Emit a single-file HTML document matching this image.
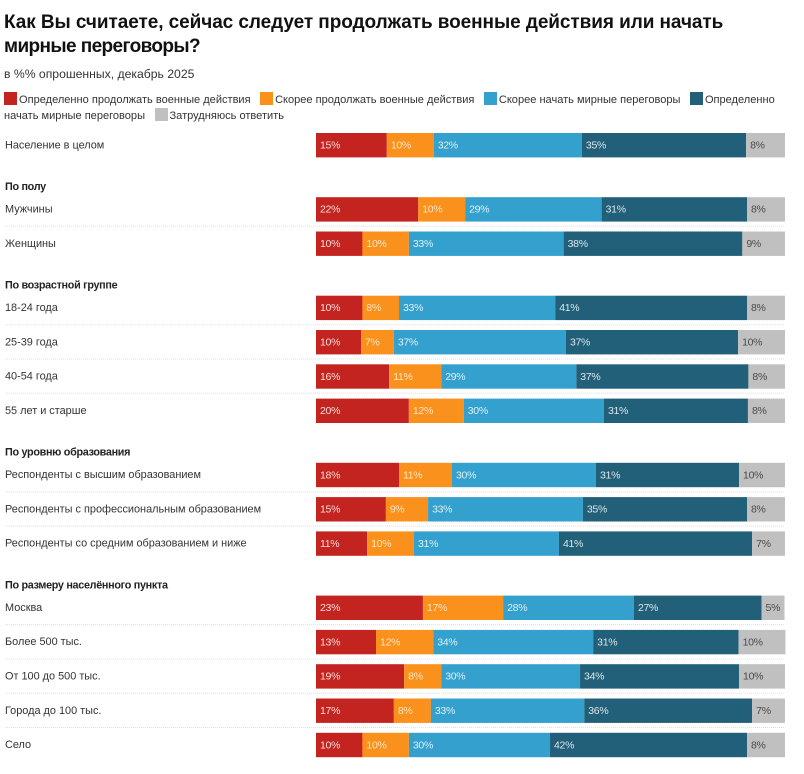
<!DOCTYPE html>
<html lang="ru">
<head>
<meta charset="utf-8">
<title>Военные действия или мирные переговоры</title>
<style>
html,body{margin:0;padding:0;background:#fff;width:804px;height:774px;overflow:hidden}
body{position:relative;font-family:"Liberation Sans",sans-serif;color:#222}
.t{position:absolute;white-space:nowrap}
#title{left:4px;top:10.5px;font-size:19px;line-height:24px;font-weight:700;color:#111;letter-spacing:-.07px}
#title span{letter-spacing:-.6px}
#subtitle{left:4px;top:66.5px;font-size:12.2px;line-height:15px;color:#333}
#legend{position:absolute;left:4px;top:92px;width:790px;font-size:11.06px;line-height:15.5px;color:#333}
.sw{display:inline-block;width:13px;height:13px;vertical-align:-2.5px;margin-right:2px}
.li{margin-right:6.4px}
svg{position:absolute;left:0;top:0}
</style>
</head>
<body>
<div class="t" id="title">Как Вы считаете, сейчас следует продолжать военные действия или начать<br><span>мирные переговоры?</span></div>
<div class="t" id="subtitle">в %% опрошенных, декабрь 2025</div>
<div id="legend">
<span class="li"><span class="sw" style="background:#c4241f"></span>Определенно продолжать военные действия</span>
<span class="li"><span class="sw" style="background:#f9911c"></span>Скорее продолжать военные действия</span>
<span class="li"><span class="sw" style="background:#33a0cd"></span>Скорее начать мирные переговоры</span>
<span class="li"><span class="sw" style="background:#225f78"></span>Определенно начать мирные переговоры</span>
<span class="li"><span class="sw" style="background:#c0c0c0"></span>Затрудняюсь ответить</span>
</div>
<svg id="chart" width="804" height="774" viewBox="0 0 804 774"></svg>
<script>
var categories = ["Население в целом","Мужчины","Женщины","18-24 года","25-39 года","40-54 года","55 лет и старше","Респонденты с высшим образованием","Респонденты с профессиональным образованием","Респонденты со средним образованием и ниже","Москва","Более 500 тыс.","От 100 до 500 тыс.","Города до 100 тыс.","Село"];
var seriesNames = ["definitely-continue","rather-continue","rather-negotiate","definitely-negotiate","undecided"];
var definitelyContinue = [15.1,21.8,9.9,9.9,9.6,15.6,19.8,17.7,14.9,10.9,22.8,12.8,18.8,16.6,9.9];
var ratherContinue = [10,10,9.9,7.8,7,11.1,11.7,11.3,9,10,17.1,12.2,7.9,7.9,9.9];
var ratherNegotiate = [31.6,29.1,33,33.3,36.7,28.8,29.9,30.7,33,30.9,27.9,34.1,29.6,32.7,30.1];
var definitelyNegotiate = [35,31,38.1,40.9,36.7,36.7,30.7,30.5,35,41.2,27.2,31,33.9,35.8,42];
var undecided = [8.3,8.1,9.1,8.1,10,7.8,7.9,9.8,8.1,7,4.9,10,9.8,7,8.1];
var labelsA = [15,22,10,10,10,16,20,18,15,11,23,13,19,17,10];
var labelsB = [10,10,10,8,7,11,12,11,9,10,17,12,8,8,10];
var labelsC = [32,29,33,33,37,29,30,30,33,31,28,34,30,33,30];
var labelsD = [35,31,38,41,37,37,31,31,35,41,27,31,34,36,42];
var labelsE = [8,8,9,8,10,8,8,10,8,7,5,10,10,7,8];
var groupHeadings = ["По полу","По возрастной группе","По уровню образования","По размеру населённого пункта"];
var groupStarts = [1,3,7,10];

var svg = document.getElementById('chart');
var NS = 'http://www.w3.org/2000/svg';
var colors = ['#c4241f','#f9911c','#33a0cd','#225f78','#c0c0c0'];
var textColors = ['#f6dcdb','#fde6c8','#e0f1f8','#dbe8ee','#4a4a4a'];
var allValues = [definitelyContinue,ratherContinue,ratherNegotiate,definitelyNegotiate,undecided];
var allLabels = [labelsA,labelsB,labelsC,labelsD,labelsE];

function xScale(v){ return 316 + v * 4.69; }
function rowCenter(i){
  var y = 145, k;
  for (k = 1; k <= i; k++) {
    y += groupStarts.indexOf(k) >= 0 ? 64.2 : 34.3;
  }
  return y;
}
function mk(tag, attrs, text){
  var el = document.createElementNS(NS, tag);
  for (var a in attrs) el.setAttribute(a, attrs[a]);
  if (text !== undefined) el.textContent = text;
  svg.appendChild(el);
  return el;
}

categories.forEach(function(cat, i){
  var cy = rowCenter(i);
  var lbl = mk('text', {x:5, y:cy+3.3, 'font-size':10.9, fill:'#333', 'font-family':'"Liberation Sans",sans-serif'}, cat);
  
  
  var cum = 0;
  allValues.forEach(function(series, s){
    var v = series[i];
    var x0 = xScale(cum), x1 = xScale(cum + v);
    var r = mk('rect', {x:x0, y:cy-12, width:x1-x0, height:24.4, fill:colors[s]});
    
    
    var t = mk('text', {x:x0+4, y:cy+3.5, 'font-size':10.5, 'letter-spacing':'-.3', fill:textColors[s], 'font-family':'"Liberation Sans",sans-serif'}, allLabels[s][i] + '%');
    
    
    cum += v;
  });
  var next = groupStarts.indexOf(i + 1) >= 0 || i === categories.length - 1 || i === 0;
  if (!next) {
    var sep = mk('line', {x1:5, x2:785, y1:cy+17, y2:cy+17, stroke:'#e0e0e0', 'stroke-width':1, 'stroke-dasharray':'1 1'});
    
    
  }
});

groupHeadings.forEach(function(h, g){
  var cy = rowCenter(groupStarts[g]);
  var t = mk('text', {x:5, y:cy-19.2, 'font-size':10.8, 'font-weight':700, fill:'#222', 'letter-spacing':'-.3', 'font-family':'"Liberation Sans",sans-serif'}, h);
  
  
});
</script>
</body>
</html>
